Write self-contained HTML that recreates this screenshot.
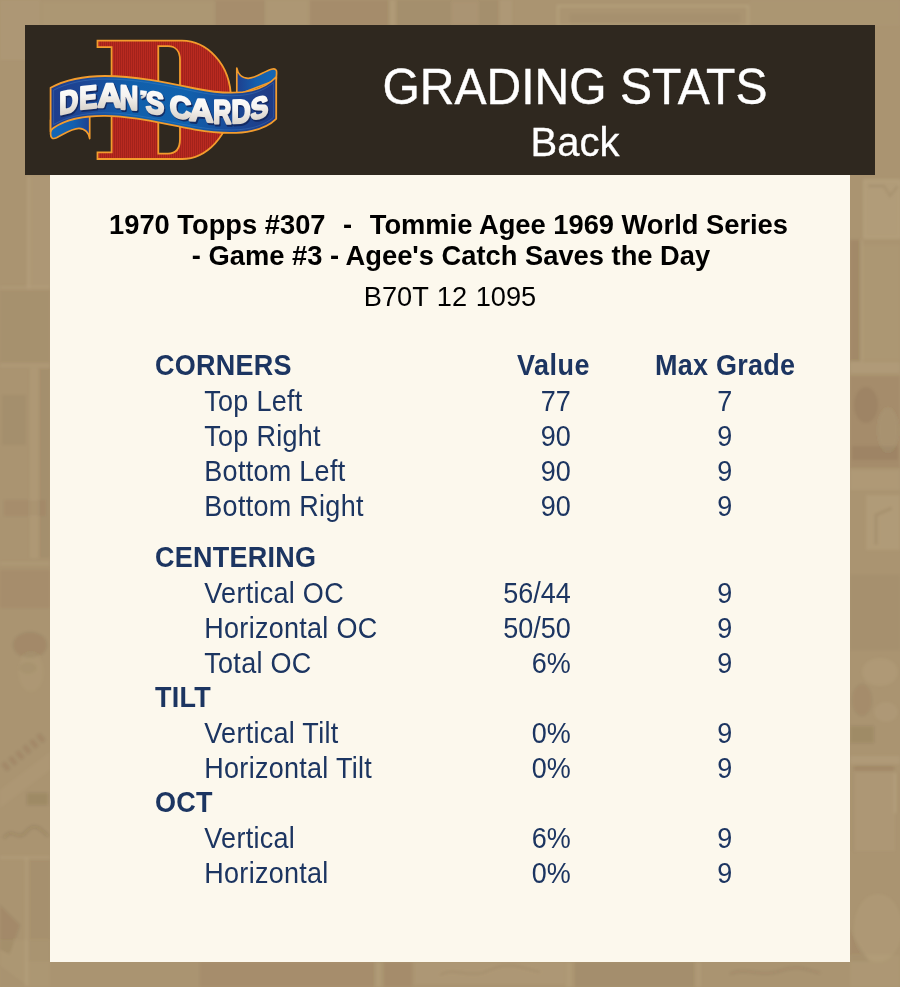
<!DOCTYPE html>
<html>
<head>
<meta charset="utf-8">
<title>Grading Stats</title>
<style>
html,body{margin:0;padding:0;}
body{width:900px;height:987px;overflow:hidden;position:relative;background:#aa9471;font-family:"Liberation Sans",sans-serif;}
#bg{position:absolute;left:0;top:0;width:900px;height:987px;}
#hdr{position:absolute;left:25px;top:25px;width:850px;height:150px;background:#2f281f;}
#panel{position:absolute;left:50px;top:175px;width:800px;height:787px;background:#fcf8ed;}
.t{position:absolute;white-space:nowrap;line-height:1;}
#h1{left:25px;width:1100px;text-align:center;top:62px;font-size:48px;color:#fff;transform-origin:50% 40px;transform:translateY(1.7px) scaleY(1.04);-webkit-text-stroke:0.4px #fff;}
#h2{left:25px;width:1100px;text-align:center;top:122px;font-size:40px;color:#fff;-webkit-text-stroke:0.3px #fff;}
.ttl{left:50px;width:800px;text-align:center;font-weight:bold;font-size:27.3px;color:#000;}
.sub{left:50px;width:800px;text-align:center;font-size:27.2px;word-spacing:1px;color:#000;}
.row{position:absolute;left:0;width:900px;height:35px;font-size:27px;color:#1c3561;line-height:35px;white-space:nowrap;transform-origin:0 25.7px;transform:translateY(1px) scaleY(1.06);}
.row b{position:absolute;left:155px;letter-spacing:0.25px;}
.row .l{position:absolute;left:204.3px;letter-spacing:0.28px;}
.row .v{position:absolute;right:329.3px;text-align:right;}
.row .g{position:absolute;left:624.7px;width:200px;text-align:center;}
.row .hv{position:absolute;left:517px;font-weight:bold;letter-spacing:0.5px;}
.row .hg{position:absolute;left:655px;font-weight:bold;letter-spacing:0.25px;}
</style>
</head>
<body>
<div id="bg"><svg width="900" height="987" viewBox="0 0 900 987">
<defs><filter id="bl" x="-5%" y="-5%" width="110%" height="110%"><feGaussianBlur stdDeviation="1.6"/></filter></defs>
<g filter="url(#bl)">
<!-- top strip -->
<rect x="0" y="0" width="40" height="60" fill="#fff2cf" opacity="0.043"/>
<rect x="42" y="2" width="172" height="24" fill="#fff2cf" opacity="0.031"/>
<rect x="215" y="0" width="50" height="26" fill="#3a2a10" opacity="0.043"/>
<rect x="266" y="0" width="42" height="26" fill="#fff2cf" opacity="0.037"/>
<rect x="310" y="0" width="80" height="26" fill="#3a2a10" opacity="0.050"/>
<rect x="390" y="0" width="5" height="26" fill="#fff2cf" opacity="0.074"/>
<rect x="396" y="0" width="104" height="26" fill="#3a2a10" opacity="0.031"/>
<rect x="452" y="2" width="26" height="22" fill="#fff2cf" opacity="0.050"/>
<rect x="500" y="0" width="12" height="26" fill="#fff2cf" opacity="0.050"/>
<rect x="558" y="6" width="190" height="20" fill="none" stroke="#fff2cf" stroke-width="3" opacity="0.099"/>
<rect x="570" y="14" width="170" height="12" fill="#3a2a10" opacity="0.025"/>
<rect x="750" y="0" width="150" height="26" fill="#fff2cf" opacity="0.019"/>
<!-- left strip -->
<rect x="27" y="176" width="24" height="112" fill="#fff2cf" opacity="0.043"/>
<rect x="27" y="176" width="3" height="112" fill="#fff2cf" opacity="0.062"/>
<rect x="0" y="286" width="50" height="3" fill="#fff2cf" opacity="0.050"/>
<rect x="0" y="290" width="50" height="74" fill="#3a2a10" opacity="0.019"/>
<rect x="0" y="364" width="50" height="3" fill="#fff2cf" opacity="0.062"/>
<rect x="30" y="368" width="8" height="190" fill="#fff2cf" opacity="0.056"/>
<rect x="39" y="368" width="11" height="190" fill="#3a2a10" opacity="0.031"/>
<rect x="2" y="395" width="24" height="50" fill="#3a2a10" opacity="0.031"/>
<rect x="4" y="500" width="42" height="16" fill="#3a2a10" opacity="0.043"/>
<rect x="0" y="562" width="50" height="3" fill="#fff2cf" opacity="0.05"/>
<rect x="0" y="570" width="50" height="38" fill="#3a2a10" opacity="0.045"/>
<ellipse cx="30" cy="645" rx="17" ry="13" fill="#3a2a10" opacity="0.07"/>
<ellipse cx="31" cy="672" rx="13" ry="20" fill="#fff2cf" opacity="0.035"/>
<ellipse cx="28" cy="668" rx="9" ry="6" fill="#3a2a10" opacity="0.04"/>
<path d="M4 768 L46 734" fill="none" stroke="#3a2a10" stroke-width="9" stroke-dasharray="5 4" opacity="0.08"/>
<path d="M0 790 L50 752 L50 770 L0 808 Z" fill="#fff2cf" opacity="0.04"/>
<rect x="27" y="793" width="21" height="12" fill="#3a2a10" opacity="0.10"/>
<path d="M4 838 C12 826 18 842 26 832 S40 828 48 836" fill="none" stroke="#3a2a10" stroke-width="3" opacity="0.09"/>
<rect x="0" y="856" width="50" height="3" fill="#fff2cf" opacity="0.07"/>
<rect x="25" y="858" width="3" height="129" fill="#fff2cf" opacity="0.07"/>
<rect x="28" y="858" width="22" height="104" fill="#3a2a10" opacity="0.025"/>
<path d="M0 905 L20 925 L10 955 L0 950 Z" fill="#3a2a10" opacity="0.07"/>
<!-- right strip -->
<rect x="864" y="180" width="36" height="58" fill="#fff2cf" opacity="0.085"/>
<rect x="864" y="180" width="36" height="58" fill="none" stroke="#fff2cf" stroke-width="2" opacity="0.08"/>
<path d="M868 186 L884 186 L890 196 L898 186" fill="none" stroke="#3a2a10" stroke-width="3" opacity="0.08"/>
<rect x="850" y="240" width="11" height="122" fill="#3a2a10" opacity="0.075"/>
<rect x="861" y="240" width="2" height="122" fill="#fff2cf" opacity="0.08"/>
<rect x="863" y="245" width="37" height="115" fill="#fff2cf" opacity="0.03"/>
<rect x="850" y="362" width="50" height="11" fill="#fff2cf" opacity="0.07"/>
<rect x="850" y="376" width="50" height="92" fill="#3a2a10" opacity="0.05"/>
<ellipse cx="866" cy="405" rx="12" ry="18" fill="#3a2a10" opacity="0.06"/>
<ellipse cx="888" cy="430" rx="10" ry="22" fill="#fff2cf" opacity="0.05"/>
<rect x="852" y="446" width="46" height="14" fill="#3a2a10" opacity="0.06"/>
<rect x="850" y="470" width="50" height="20" fill="#fff2cf" opacity="0.06"/>
<rect x="866" y="495" width="34" height="55" fill="#fff2cf" opacity="0.08"/>
<path d="M876 545 L876 515 L892 508" fill="none" stroke="#3a2a10" stroke-width="4" opacity="0.08"/>
<rect x="850" y="575" width="50" height="75" fill="#3a2a10" opacity="0.025"/>
<ellipse cx="880" cy="672" rx="18" ry="14" fill="#fff2cf" opacity="0.06"/>
<ellipse cx="862" cy="700" rx="10" ry="16" fill="#3a2a10" opacity="0.05"/>
<ellipse cx="886" cy="712" rx="12" ry="10" fill="#fff2cf" opacity="0.05"/>
<rect x="850" y="726" width="24" height="17" fill="#3a2a10" opacity="0.09"/>
<rect x="850" y="756" width="50" height="8" fill="#fff2cf" opacity="0.07"/>
<rect x="854" y="765" width="40" height="6" fill="#3a2a10" opacity="0.07"/>
<rect x="853" y="773" width="42" height="78" fill="#fff2cf" opacity="0.045"/>
<rect x="894" y="773" width="2.5" height="40" fill="#fff2cf" opacity="0.10"/>
<rect x="853" y="773" width="2" height="78" fill="#3a2a10" opacity="0.05"/>
<ellipse cx="878" cy="928" rx="24" ry="34" fill="#fff2cf" opacity="0.055"/>
<path d="M850 930 L870 962 L850 962 Z" fill="#3a2a10" opacity="0.05"/>
<!-- bottom strip -->
<rect x="0" y="940" width="50" height="47" fill="#fff2cf" opacity="0.031"/>
<rect x="200" y="962" width="175" height="25" fill="#3a2a10" opacity="0.043"/>
<rect x="376" y="962" width="5" height="25" fill="#fff2cf" opacity="0.074"/>
<rect x="384" y="962" width="28" height="25" fill="#3a2a10" opacity="0.050"/>
<rect x="415" y="962" width="150" height="22" fill="#fff2cf" opacity="0.043"/>
<path d="M440 975 C455 966 470 980 490 970 S520 968 540 972" fill="none" stroke="#3a2a10" stroke-width="2.5" opacity="0.074"/>
<rect x="566" y="962" width="6" height="25" fill="#fff2cf" opacity="0.074"/>
<rect x="575" y="962" width="120" height="25" fill="#3a2a10" opacity="0.037"/>
<rect x="696" y="962" width="5" height="25" fill="#fff2cf" opacity="0.062"/>
<path d="M730 974 C745 966 760 978 780 971 S805 970 820 973" fill="none" stroke="#3a2a10" stroke-width="2.5" opacity="0.062"/>
<rect x="850" y="955" width="50" height="32" fill="#fff2cf" opacity="0.037"/>
<path d="M0 965 L30 987 L0 987 Z" fill="#3a2a10" opacity="0.031"/>
</g>
</svg></div>
<div id="hdr"></div>
<div id="panel"></div>
<!--LOGO-->
<svg id="logo" width="300" height="180" viewBox="0 0 300 180" style="position:absolute;left:0;top:0;overflow:visible">
<defs>
<pattern id="stripe" width="2" height="8" patternUnits="userSpaceOnUse"><rect width="2" height="8" fill="#b92a20"/><rect width="1" height="8" fill="#a3221b"/></pattern>
<linearGradient id="rb" x1="50" y1="0" x2="277" y2="0" gradientUnits="userSpaceOnUse">
<stop offset="0" stop-color="#1f3d8c"/><stop offset="0.16" stop-color="#1c4796"/><stop offset="0.36" stop-color="#115fab"/><stop offset="0.6" stop-color="#1061ad"/><stop offset="0.8" stop-color="#1a4a98"/><stop offset="1" stop-color="#1f3882"/></linearGradient>
<linearGradient id="tl" x1="50" y1="0" x2="90" y2="0" gradientUnits="userSpaceOnUse">
<stop offset="0" stop-color="#1467b6"/><stop offset="0.6" stop-color="#145fae"/><stop offset="1" stop-color="#1d3f8e"/></linearGradient>
<linearGradient id="tr" x1="237" y1="0" x2="277" y2="0" gradientUnits="userSpaceOnUse">
<stop offset="0" stop-color="#1e3f8e"/><stop offset="0.5" stop-color="#1560ae"/><stop offset="1" stop-color="#1467b6"/></linearGradient>
<linearGradient id="tg" x1="0" y1="0" x2="0" y2="1"><stop offset="0" stop-color="#ffffff"/><stop offset="0.45" stop-color="#f6f4f1"/><stop offset="1" stop-color="#cfc8bf"/></linearGradient>
</defs>
<!-- big D -->
<path d="M97.5 40.6 H182 C205 40.6 231 62 231 99.8 C231 137 205 159 182 159 H97.5 V152.3 H111.6 V47.2 H97.5 Z M158.3 46.2 V153.6 H168 C176 153.6 180 148 180 139 V60 C180 52 176 46.2 168 46.2 Z" fill="url(#stripe)" fill-rule="evenodd" stroke="#f39c2d" stroke-width="1.8" stroke-linejoin="miter"/>
<!-- left tail -->
<path d="M50.6 120 V134 C50.6 138.4 53 139.4 56.5 137.8 C64 134 72 128.2 79 128.3 C85 128.5 89 133 89.7 138.6 V113 Z" fill="url(#tl)" stroke="#f39c2d" stroke-width="1.7" stroke-linejoin="round"/>
<!-- right back fold -->
<path d="M236.8 95 V68.2 C237.6 73 241 78 248 78.3 C256 78.5 264 71.2 271.5 69.2 C275.5 68.2 277 70 276.6 73 L276.2 80 Z" fill="url(#tr)" stroke="#f39c2d" stroke-width="1.7" stroke-linejoin="round"/>
<!-- ribbon front -->
<path id="rib" d="M50.6 87.8 C65 80 85 76 105 76 C135 76 165 82 195 88.5 C215 92.6 235 94.6 252 90.5 C262 88 271 82.4 276.2 77 V118.8 C271 124 262 128.6 252 130.8 C235 134.6 215 133 195 129.6 C165 124.4 135 116 105 115.8 C85 115.6 65 119.6 53.4 128 C51.8 129.4 50.6 130.4 50.6 131.6 Z" fill="url(#rb)" stroke="#f39c2d" stroke-width="1.8" stroke-linejoin="round"/>
<path d="M53.6 90.2 C67 83 86 79 105 79 C135 79 165 85 195 91.5 C215 95.6 235 97.6 252 93.5 C261 91.2 268.5 87 273.4 82.6 V117.4 C268.5 121.6 261 125.6 252 127.8 C235 131.6 215 130 195 126.6 C165 121.4 135 113 105 112.8 C86 112.6 67 116.6 53.6 124.6 Z" fill="none" stroke="#4f8fd0" stroke-opacity="0.45" stroke-width="0.7"/>
<g font-family="Liberation Sans, sans-serif" font-weight="bold" font-size="32" stroke-linejoin="round">
<g transform="translate(1.1 1.6)" fill="#13285f" stroke="#13285f" stroke-width="2.9" opacity="0.9">
<text transform="matrix(0.8242 -0.1896 0 0.9955 59.22 114.65)">D</text>
<text transform="matrix(0.8402 -0.0840 0 0.9955 79.32 109.15)">E</text>
<text transform="matrix(1.0534 0.0000 0 1.0227 97.52 106.65)">A</text>
<text transform="matrix(0.7983 0.0479 0 1.0500 119.72 108.75)">N</text>
<path d="M140.6 90.6 L146.6 91.3 L146.3 94.2 C145.8 96.6 144.2 98.0 141.3 98.4 L141.0 96.6 C142.5 96.3 143.1 95.7 143.3 95.0 L140.4 94.7 Z" stroke-width="0.6"/>
<text transform="matrix(0.8683 0.1042 0 0.9670 145.72 112.49)">S</text>
<text transform="matrix(0.9323 0.1492 0 0.9582 169.82 116.19)">C</text>
<text transform="matrix(1.0577 0.0846 0 0.9864 189.12 120.35)">A</text>
<text transform="matrix(0.7810 0.0156 0 1.0409 213.22 123.35)">R</text>
<text transform="matrix(0.8285 -0.0497 0 1.0273 231.52 123.35)">D</text>
<text transform="matrix(0.8356 -0.2172 0 0.9451 250.52 120.40)">S</text>
</g>
<g fill="url(#tg)" stroke="url(#tg)" stroke-width="2.3">
<text transform="matrix(0.8242 -0.1896 0 0.9955 59.22 114.65)">D</text>
<text transform="matrix(0.8402 -0.0840 0 0.9955 79.32 109.15)">E</text>
<text transform="matrix(1.0534 0.0000 0 1.0227 97.52 106.65)">A</text>
<text transform="matrix(0.7983 0.0479 0 1.0500 119.72 108.75)">N</text>
<path d="M140.6 90.6 L146.6 91.3 L146.3 94.2 C145.8 96.6 144.2 98.0 141.3 98.4 L141.0 96.6 C142.5 96.3 143.1 95.7 143.3 95.0 L140.4 94.7 Z" stroke-width="0.6"/>
<text transform="matrix(0.8683 0.1042 0 0.9670 145.72 112.49)">S</text>
<text transform="matrix(0.9323 0.1492 0 0.9582 169.82 116.19)">C</text>
<text transform="matrix(1.0577 0.0846 0 0.9864 189.12 120.35)">A</text>
<text transform="matrix(0.7810 0.0156 0 1.0409 213.22 123.35)">R</text>
<text transform="matrix(0.8285 -0.0497 0 1.0273 231.52 123.35)">D</text>
<text transform="matrix(0.8356 -0.2172 0 0.9451 250.52 120.40)">S</text>
</g>
</g>
</svg>
<!--/LOGO-->
<div class="t" id="h1">GRADING STATS</div>
<div class="t" id="h2">Back</div>
<div class="t ttl" style="top:211px;left:48.5px">1970 Topps #307<span style="word-spacing:1.2px"> &nbsp;-&nbsp; </span>Tommie Agee 1969 World Series</div>
<div class="t ttl" style="top:242px;left:51px">- Game #3 - Agee's Catch Saves the Day</div>
<div class="t sub" style="top:283px">B70T 12 1095</div>

<div class="row" style="top:348px"><b>CORNERS</b><span class="hv">Value</span><span class="hg">Max Grade</span></div>
<div class="row" style="top:384px"><span class="l">Top Left</span><span class="v">77</span><span class="g">7</span></div>
<div class="row" style="top:419px"><span class="l">Top Right</span><span class="v">90</span><span class="g">9</span></div>
<div class="row" style="top:454px"><span class="l">Bottom Left</span><span class="v">90</span><span class="g">9</span></div>
<div class="row" style="top:489px"><span class="l">Bottom Right</span><span class="v">90</span><span class="g">9</span></div>
<div class="row" style="top:540px"><b>CENTERING</b></div>
<div class="row" style="top:576px"><span class="l">Vertical OC</span><span class="v">56/44</span><span class="g">9</span></div>
<div class="row" style="top:611px"><span class="l">Horizontal OC</span><span class="v">50/50</span><span class="g">9</span></div>
<div class="row" style="top:646px"><span class="l">Total OC</span><span class="v">6%</span><span class="g">9</span></div>
<div class="row" style="top:680px"><b>TILT</b></div>
<div class="row" style="top:716px"><span class="l">Vertical Tilt</span><span class="v">0%</span><span class="g">9</span></div>
<div class="row" style="top:751px"><span class="l">Horizontal Tilt</span><span class="v">0%</span><span class="g">9</span></div>
<div class="row" style="top:785px"><b>OCT</b></div>
<div class="row" style="top:821px"><span class="l">Vertical</span><span class="v">6%</span><span class="g">9</span></div>
<div class="row" style="top:856px"><span class="l">Horizontal</span><span class="v">0%</span><span class="g">9</span></div>
</body>
</html>
